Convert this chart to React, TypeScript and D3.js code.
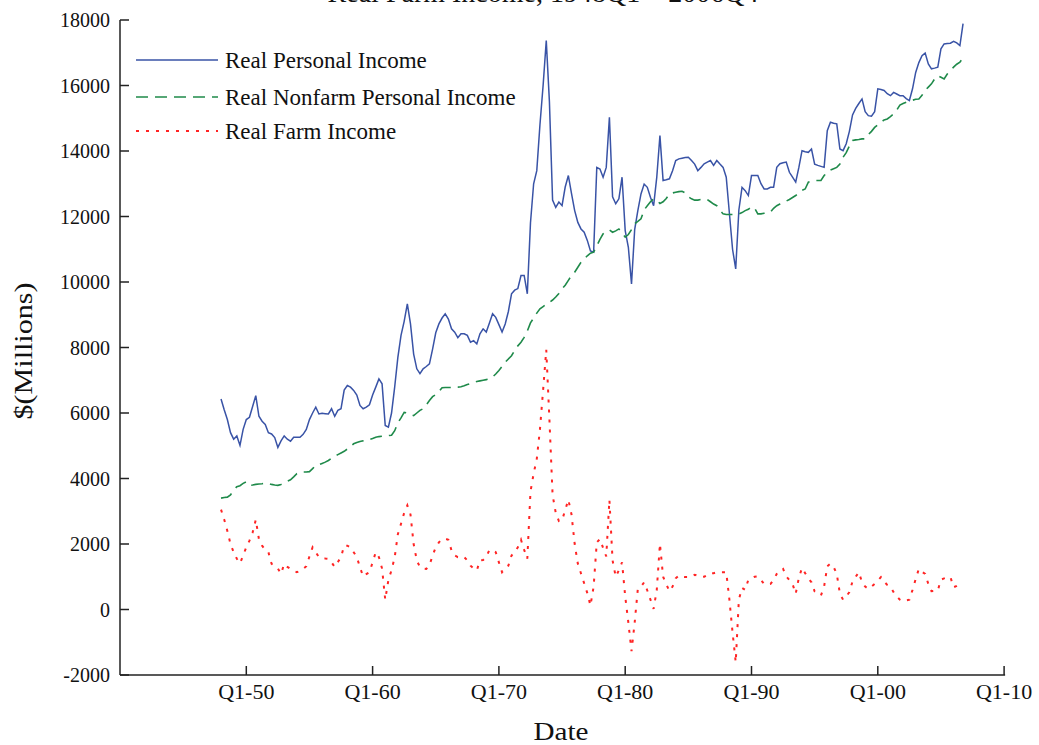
import React from "react";
import * as d3 from "d3";

const startYear = 1948;
const xTickYears = [1950, 1960, 1970, 1980, 1990, 2000, 2010];
const xTickLabels = ["Q1-50", "Q1-60", "Q1-70", "Q1-80", "Q1-90", "Q1-00", "Q1-10"];
const yTicks = [-2000, 0, 2000, 4000, 6000, 8000, 10000, 12000, 14000, 16000, 18000];

// Real Personal Income, quarterly 1948Q1 - 2006Q4
const personalIncome = [
  6430, 6100, 5800, 5400, 5200, 5300, 5010, 5500, 5800, 5870, 6200, 6530,
  5900, 5750, 5650, 5400, 5360, 5250, 4950, 5150, 5300, 5200, 5140, 5260,
  5260, 5260, 5350, 5500, 5800, 6000, 6180, 5970, 5990, 5980, 5970, 6130,
  5900, 6080, 6130, 6700, 6840, 6790, 6690, 6550, 6230, 6130, 6180, 6250,
  6550, 6790, 7040, 6890, 5620, 5570, 6000, 6800, 7700, 8370, 8800, 9330,
  8720, 7800, 7350, 7200, 7350, 7420, 7500, 7950, 8450, 8720, 8900, 9030,
  8870, 8570, 8470, 8300, 8420, 8420, 8370, 8160, 8210, 8110, 8420, 8570,
  8470, 8750, 9030, 8920, 8700, 8470, 8720, 9100, 9640, 9750, 9800, 10200,
  10200, 9640, 11800, 13000, 13400, 14800, 16000, 17370, 15500, 12500, 12280, 12440,
  12330, 12900, 13250, 12700, 12180, 11820, 11620, 11520, 11270, 10950, 10910, 13500,
  13450, 13200, 13500, 15030, 12600, 12390, 12540, 13200, 11570, 11060, 9940, 11600,
  12180, 12690, 12990, 12890, 12590, 12330, 13200, 14470, 13100, 13120, 13150, 13400,
  13710, 13760, 13780, 13800, 13810, 13710, 13600, 13400, 13500, 13610, 13660, 13710,
  13560, 13710, 13600, 13500, 13200, 12100, 11000, 10400, 12200, 12890, 12790, 12640,
  13250, 13250, 13250, 13000, 12840, 12840, 12890, 12890, 13500, 13610, 13640, 13660,
  13350, 13200, 13050, 13500, 14010, 13980, 13960, 14060, 13600, 13560, 13530, 13500,
  14620, 14880, 14850, 14830, 14060, 14010, 14220, 14600, 15100, 15300, 15450, 15590,
  15200, 15080, 15060, 15200, 15900, 15880, 15850, 15750, 15690, 15790, 15740, 15690,
  15690, 15600, 15540, 15900, 16400, 16700, 16910, 16990, 16660, 16510, 16530, 16560,
  17120, 17270, 17280, 17290, 17350, 17300, 17220, 17890,
];

// Real Nonfarm Personal Income
const nonfarmIncome = [
  3400, 3420, 3430, 3500, 3650, 3750, 3780, 3850, 3900, 3790, 3800, 3820,
  3830, 3840, 3860, 3850, 3820, 3800, 3790, 3820, 3870, 3920, 3960, 4050,
  4150, 4190, 4200, 4200, 4210, 4300, 4400, 4420, 4460, 4500, 4550, 4620,
  4680, 4730, 4780, 4830, 4900, 4980, 5060, 5100, 5130, 5150, 5160, 5190,
  5220, 5260, 5280, 5290, 5300, 5310, 5320, 5460, 5700, 5850, 6020, 6000,
  5950, 5920, 6000, 6080, 6130, 6250, 6380, 6500, 6560, 6650, 6770, 6780,
  6780, 6780, 6790, 6790, 6800, 6830, 6870, 6900, 6940, 6960, 6980, 7000,
  7020, 7040, 7100, 7190, 7300, 7420, 7550, 7650, 7750, 7910, 8050, 8160,
  8310, 8500, 8750, 8900, 9050, 9180, 9250, 9320, 9380, 9450, 9540, 9650,
  9790, 9900, 10050, 10200, 10300, 10450, 10600, 10700, 10800, 10880, 10910, 11100,
  11300, 11470, 11550, 11590, 11520, 11560, 11620, 11500, 11370, 11450, 11600, 11780,
  11850, 11930, 12200, 12330, 12450, 12540, 12500, 12400, 12450, 12550, 12690, 12720,
  12740, 12760, 12770, 12720, 12600, 12540, 12500, 12500, 12520, 12540, 12520, 12450,
  12380, 12330, 12200, 12080, 12060, 12060, 12060, 12060, 12080, 12120, 12180, 12220,
  12300, 12250, 12080, 12080, 12100, 12110, 12130, 12250, 12330, 12380, 12430, 12470,
  12520, 12580, 12640, 12720, 12800, 12840, 13050, 13080, 13100, 13100, 13100, 13250,
  13350, 13420, 13460, 13500, 13600, 13810, 13950, 14150, 14320, 14340, 14350, 14370,
  14370, 14500, 14600, 14720, 14800, 14880, 14950, 14980, 15050, 15130, 15250, 15400,
  15450, 15490, 15520, 15550, 15580, 15590, 15700, 15850, 15950, 16050, 16200, 16300,
  16250, 16200, 16350, 16450, 16560, 16650, 16710, 16850,
];

// Real Farm Income
const farmIncome = [
  3050, 2750, 2400, 2000, 1750, 1550, 1410, 1650, 1900, 2100, 2350, 2740,
  2150, 1950, 1820, 1750, 1400, 1300, 1250, 1090, 1390, 1300, 1240, 1180,
  1140, 1180, 1240, 1320, 1620, 1900, 1750, 1600, 1580, 1560, 1550, 1440,
  1300, 1450, 1600, 1950, 1950, 1900, 1750, 1600, 1290, 1010, 1080, 1140,
  1440, 1750, 1600, 1250, 300, 900, 1200, 1600, 2300, 2620, 2950, 3180,
  2900, 2000, 1500, 1290, 1250, 1240, 1350, 1650, 1900, 2050, 2150, 2160,
  2130, 1800, 1650, 1600, 1620, 1600, 1500, 1340, 1250, 1190, 1500, 1510,
  1600, 1820, 1800, 1750, 1440, 1140, 1250, 1340, 1650, 1750, 1900, 2130,
  1820, 1550, 3600, 4150, 4600, 5500, 6700, 7930, 5800, 3500, 2950, 2700,
  2720, 3040, 3350, 2900, 2000, 1400, 1100, 800, 500, 120, 700, 2050,
  2150, 1880, 1620, 3350, 1500, 1000, 1200, 1440, 400, -400, -1270, -400,
  630, 700, 830, 580, 300, 20, 600, 2010, 1000, 780, 560, 700,
  950, 1040, 1000, 990, 990, 1000, 1060, 1030, 990, 1000, 1050, 1110,
  1110, 1140, 1140, 1140, 1140, 300, -700, -1610, 300, 660, 600, 910,
  950, 1000, 1010, 900, 780, 780, 780, 900, 1090, 1200, 1240, 1010,
  900, 780, 480, 970, 1270, 1110, 950, 830, 550, 480, 430, 700,
  1320, 1400, 1300, 1090, 480, 300, 400, 530, 860, 1000, 1140, 830,
  700, 630, 700, 780, 880, 990, 850, 750, 700, 530, 400, 300,
  250, 280, 300, 600, 930, 1240, 1150, 1090, 780, 560, 570, 580,
  910, 950, 980, 990, 680, 720, 780, 790,
];

const seriesInfo = [
  { name: "Real Personal Income", values: personalIncome, color: "#3953a6", dash: "none", width: 1.5 },
  { name: "Real Nonfarm Personal Income", values: nonfarmIncome, color: "#1f8a4a", dash: "12 7", width: 1.6 },
  { name: "Real Farm Income", values: farmIncome, color: "#ff2424", dash: "3 7", width: 2 },
];

const W = 1039;
const H = 745;
const X0 = 120, X1 = 1004.1, Y0 = 675, Y1 = 20;

export default function App() {
  const x = d3.scaleLinear().domain([1940, 2010]).range([X0, X1]);
  const y = d3.scaleLinear().domain([-2000, 18000]).range([Y0, Y1]);
  const t = (i: number) => startYear + i / 4;
  const line = d3
    .line<number>()
    .x((_, i) => x(t(i)))
    .y((d) => y(d));

  const font = "'Liberation Serif', 'Times New Roman', serif";
  const legendY = [60, 97, 131];

  return (
    <svg
      width={W}
      height={H}
      style={{ position: "absolute", left: 0, top: 0, background: "#fff" }}
      fontFamily={font}
    >
      <rect width={W} height={H} fill="#fff" />
      <text x={543} y={2} fontSize={28} textAnchor="middle" fill="#111">
        Real Farm Income, 1948Q1 – 2006Q4
      </text>

      {seriesInfo.map((s) => (
        <path
          key={s.name}
          d={line(s.values) || ""}
          fill="none"
          stroke={s.color}
          strokeWidth={s.width}
          strokeDasharray={s.dash}
          strokeLinejoin="miter"
        />
      ))}

      {/* axes */}
      <line x1={X0} x2={X0} y1={Y1} y2={Y0} stroke="#222" strokeWidth={1.5} />
      <line x1={X0} x2={X1 + 1} y1={Y0} y2={Y0} stroke="#222" strokeWidth={1.5} />
      {yTicks.map((v) => (
        <g key={v}>
          <line x1={X0} x2={X0 + 9} y1={y(v)} y2={y(v)} stroke="#222" strokeWidth={1.5} />
          <text x={110} y={y(v) + 7} fontSize={20} textAnchor="end" fill="#111">
            {v}
          </text>
        </g>
      ))}
      {xTickYears.map((yr, i) => (
        <g key={yr}>
          <line x1={x(yr)} x2={x(yr)} y1={Y0} y2={Y0 - 9} stroke="#222" strokeWidth={1.5} />
          <text x={x(yr)} y={699} fontSize={22} textAnchor="middle" fill="#111">
            {xTickLabels[i]}
          </text>
        </g>
      ))}
      <text x={561} y={740} fontSize={26} textAnchor="middle" textLength={55} lengthAdjust="spacingAndGlyphs" fill="#111">
        Date
      </text>
      <text
        transform="translate(32,351) rotate(-90)"
        fontSize={26}
        textAnchor="middle"
        textLength={137}
        lengthAdjust="spacingAndGlyphs"
        fill="#111"
      >
        $(Millions)
      </text>

      {/* legend */}
      {seriesInfo.map((s, i) => (
        <g key={s.name}>
          <line
            x1={136}
            x2={218}
            y1={legendY[i]}
            y2={legendY[i]}
            stroke={s.color}
            strokeWidth={s.width}
            strokeDasharray={s.dash}
          />
          <text x={225} y={legendY[i] + 8} fontSize={23} fill="#111">
            {s.name}
          </text>
        </g>
      ))}
    </svg>
  );
}
